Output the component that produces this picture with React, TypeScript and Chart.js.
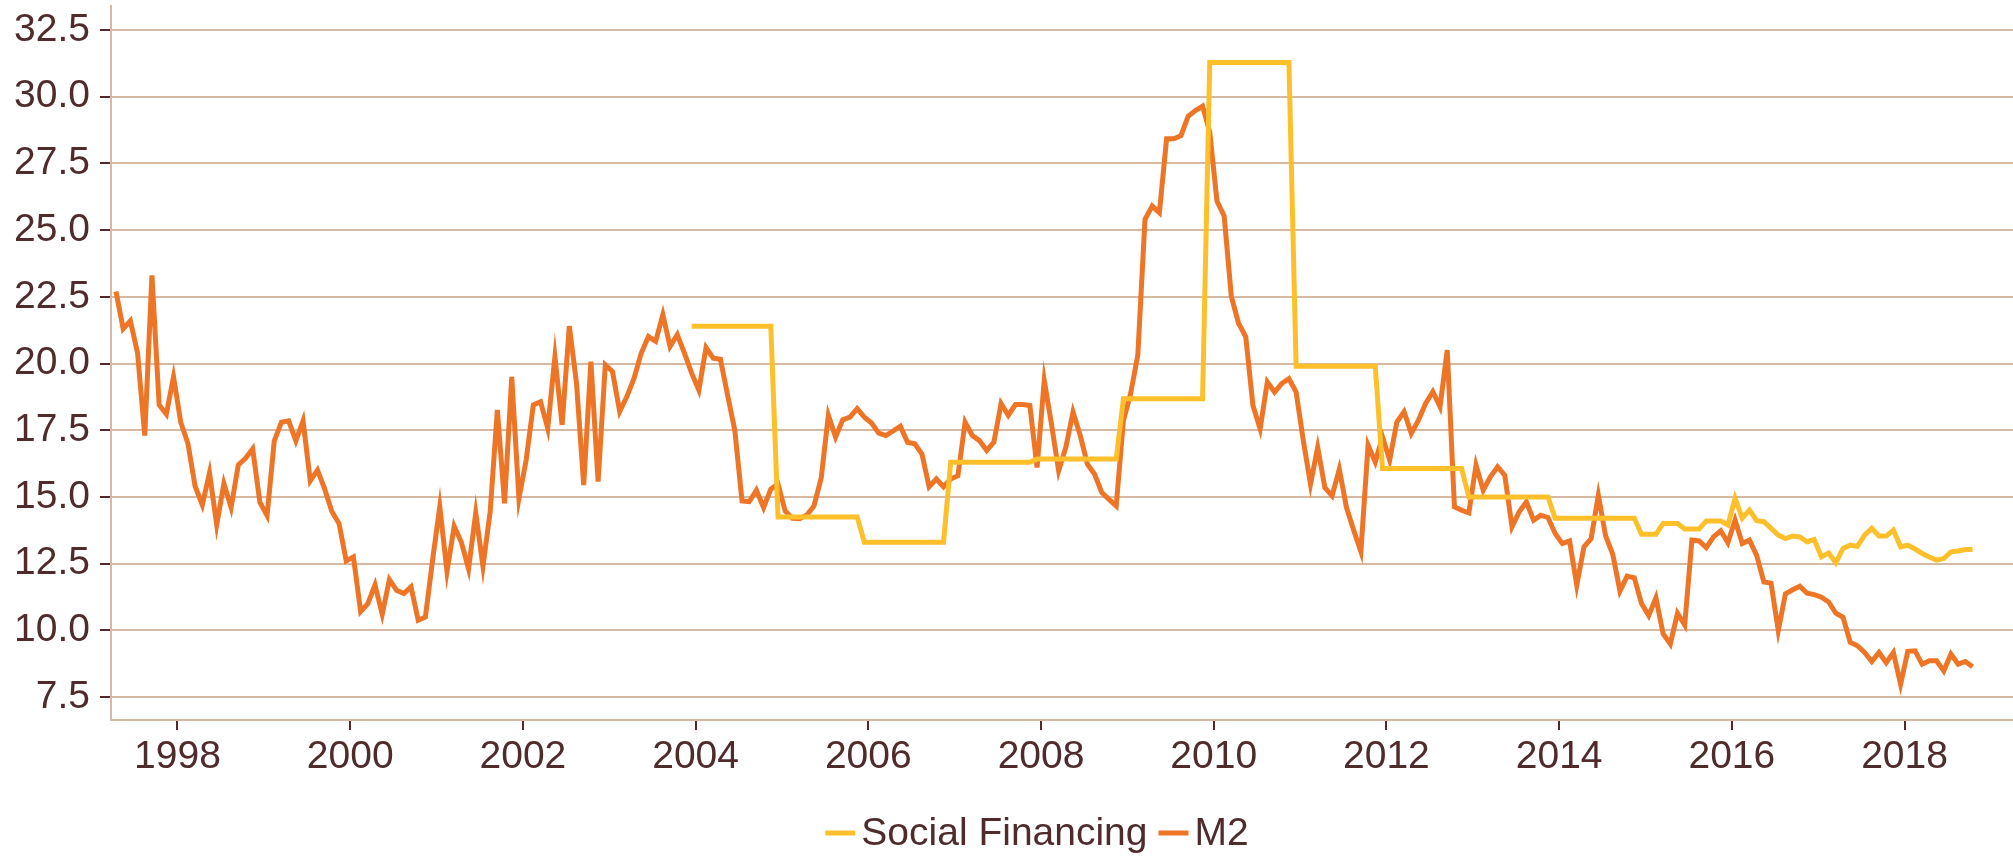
import React, { useEffect, useRef } from "react";
import { Chart, registerables } from "chart.js";

Chart.register(...registerables);

// ---------- data ----------
// Monthly series, first month = April 1997
const START_YEAR = 1997;
const START_MONTH = 4;

// M2 growth (% y/y), Apr 1997 .. Oct 2018
const m2Values: number[] = [
  22.7, 21.3, 21.6, 20.4, 17.3, 23.3, 18.45, 18.1, 19.5,
  17.8, 17.0, 15.4, 14.7, 15.9, 13.95, 15.5, 14.6, 16.2, 16.45, 16.8, 14.8,
  14.3, 17.1, 17.8, 17.85, 17.1, 17.85, 15.6, 16.0, 15.3, 14.45, 14.0, 12.6,
  12.75, 10.7, 11.0, 11.7, 10.6, 11.9, 11.5, 11.38, 11.63, 10.38, 10.5, 12.63,
  14.63, 12.2, 13.9, 13.3, 12.3, 14.4, 12.4, 14.44, 18.26, 14.76, 19.5, 14.94,
  16.38, 18.45, 18.57, 17.57, 20.26, 17.7, 21.4, 19.26, 15.44, 20.07, 15.57, 19.95,
  19.7, 18.2, 18.76, 19.45, 20.39, 21.01, 20.83, 21.83, 20.64, 21.08, 20.39, 19.64,
  19.0, 20.6, 20.2, 20.16, 18.81, 17.49, 14.85, 14.82, 15.25, 14.6, 15.29, 15.48,
  14.47, 14.2, 14.18, 14.32, 14.66, 15.7, 18.06, 17.24, 17.89, 17.99, 18.31, 17.99,
  17.77, 17.39, 17.3, 17.47, 17.65, 17.05, 16.99, 16.61, 15.38, 15.67, 15.38, 15.67,
  15.79, 17.8, 17.3, 17.11, 16.74, 17.05, 18.5, 18.06, 18.46, 18.46, 18.43, 16.1,
  19.37, 17.74, 15.98, 16.86, 18.18, 17.3, 16.23, 15.85, 15.16, 14.91, 14.66, 17.86,
  18.87, 20.31, 25.4, 25.9, 25.65, 28.42, 28.42, 28.54, 29.27, 29.48, 29.65, 28.67,
  26.09, 25.53, 22.51, 21.51, 21.0, 18.43, 17.55, 19.31, 18.93, 19.25, 19.43, 18.93,
  17.11, 15.48, 16.86, 15.35, 15.04, 16.04, 14.6, 13.75, 12.95, 16.94, 16.31, 17.25,
  16.38, 17.81, 18.19, 17.38, 17.88, 18.5, 18.94, 18.38, 20.5, 14.63, 14.5, 14.4,
  16.19, 15.25, 15.75, 16.13, 15.81, 13.88, 14.44, 14.81, 14.13, 14.31, 14.23, 13.63,
  13.25, 13.35, 11.69, 13.13, 13.44, 15.06, 13.55, 12.85, 11.47, 12.03, 11.97, 11.0,
  10.55, 11.22, 9.87, 9.49, 10.64, 10.2, 13.38, 13.35, 13.1, 13.5, 13.73, 13.28,
  14.13, 13.25, 13.38, 12.81, 11.81, 11.77, 9.99, 11.37, 11.52, 11.65, 11.39, 11.34,
  11.24, 11.06, 10.64, 10.49, 9.55, 9.42, 9.17, 8.83, 9.17, 8.79, 9.17, 7.98,
  9.21, 9.23, 8.73, 8.86, 8.86, 8.48, 9.11, 8.73, 8.83, 8.63,
];

// Social financing growth (% y/y), monthly from Dec 2003 (index 80) .. Oct 2018
const SF_START_INDEX = 80;
const sfValues: number[] = [
  21.4, 21.4, 21.4, 21.4, 21.4, 21.4, 21.4, 21.4, 21.4, 21.4, 21.4, 21.4,
  14.25, 14.25, 14.25, 14.25, 14.25, 14.25, 14.25, 14.25, 14.25, 14.25, 14.25, 14.25,
  13.3, 13.3, 13.3, 13.3, 13.3, 13.3, 13.3, 13.3, 13.3, 13.3, 13.3, 13.3,
  16.3, 16.3, 16.3, 16.3, 16.3, 16.3, 16.3, 16.3, 16.3, 16.3, 16.3, 16.3,
  16.42, 16.42, 16.42, 16.42, 16.42, 16.42, 16.42, 16.42, 16.42, 16.42, 16.42, 16.42,
  18.68, 18.68, 18.68, 18.68, 18.68, 18.68, 18.68, 18.68, 18.68, 18.68, 18.68, 18.68,
  31.28, 31.28, 31.28, 31.28, 31.28, 31.28, 31.28, 31.28, 31.28, 31.28, 31.28, 31.28,
  19.9, 19.9, 19.9, 19.9, 19.9, 19.9, 19.9, 19.9, 19.9, 19.9, 19.9, 19.9,
  16.06, 16.06, 16.06, 16.06, 16.06, 16.06, 16.06, 16.06, 16.06, 16.06, 16.06, 16.06,
  15.0, 15.0, 15.0, 15.0, 15.0, 15.0, 15.0, 15.0, 15.0, 15.0, 15.0, 15.0,
  14.2, 14.2, 14.2, 14.2, 14.2, 14.2, 14.2, 14.2, 14.2, 14.2, 14.2, 14.2,
  13.6, 13.6, 13.6, 14.0, 14.0, 14.0, 13.8, 13.8, 13.8, 14.1, 14.1, 14.1,
  13.95, 14.95, 14.2, 14.51, 14.11, 14.07, 13.82, 13.57, 13.44, 13.53, 13.5, 13.32,
  13.4, 12.75, 12.9, 12.53, 13.07, 13.19, 13.15, 13.57, 13.82, 13.53, 13.53, 13.76,
  13.13, 13.19, 13.05, 12.88, 12.75, 12.63, 12.69, 12.94, 12.97, 13.03, 13.03,
];

const seriesLabels = ["Social Financing", "M2"];
const xTickYears = [1998, 2000, 2002, 2004, 2006, 2008, 2010, 2012, 2014, 2016, 2018];
const yTickValues = [7.5, 10, 12.5, 15, 17.5, 20, 22.5, 25, 27.5, 30, 32.5];

// ---------- style ----------
const TEXT = "#4F2B2B";
const GRID = "#D6B9A4";
const SF_COLOR = "#FDC02B";
const M2_COLOR = "#EE7426";
const FONT = "'Liberation Sans', Arial, Helvetica, sans-serif";
const FONT_SIZE = 39;
const LINE_WIDTH = 5;

const monthToX = (index: number) => START_YEAR + (START_MONTH - 1 + index + 0.45) / 12;

const legendPlugin = {
  id: "bottomLegend",
  afterDraw(chart: any) {
    const ctx = chart.ctx as CanvasRenderingContext2D;
    ctx.save();
    ctx.font = `${FONT_SIZE}px ${FONT}`;
    const boxW = 30;
    const boxH = 5;
    const gapText = 6;
    const gapItem = 11;
    const items = chart.data.datasets.map((ds: any) => ({
      label: ds.label as string,
      color: ds.borderColor as string,
      w: ctx.measureText(ds.label).width,
    }));
    const total =
      items.reduce((s: number, it: any) => s + boxW + gapText + it.w, 0) + gapItem * (items.length - 1);
    let x = 1037 - total / 2;
    const boxMid = 833;
    const baseline = 845;
    ctx.textBaseline = "alphabetic";
    ctx.textAlign = "left";
    for (const it of items) {
      ctx.fillStyle = it.color;
      ctx.fillRect(x, boxMid - boxH / 2, boxW, boxH);
      x += boxW + gapText;
      ctx.fillStyle = TEXT;
      ctx.fillText(it.label, x, baseline);
      x += it.w + gapItem;
    }
    ctx.restore();
  },
};

export default function App() {
  const canvasRef = useRef<HTMLCanvasElement | null>(null);

  useEffect(() => {
    if (!canvasRef.current) return;
    const chart = new Chart(canvasRef.current, {
      type: "line",
      data: {
        datasets: [
          {
            label: seriesLabels[0],
            data: sfValues.map((v, i) => ({ x: monthToX(SF_START_INDEX + i), y: v })),
            borderColor: SF_COLOR,
            backgroundColor: SF_COLOR,
            borderWidth: LINE_WIDTH,
            pointRadius: 0,
            fill: false,
            tension: 0,
          },
          {
            label: seriesLabels[1],
            data: m2Values.map((v, i) => ({ x: monthToX(i), y: v })),
            borderColor: M2_COLOR,
            backgroundColor: M2_COLOR,
            borderWidth: LINE_WIDTH,
            pointRadius: 0,
            fill: false,
            tension: 0,
          },
        ],
      },
      options: {
        animation: false,
        responsive: true,
        maintainAspectRatio: false,
        layout: { padding: { top: 6, left: 0, right: 0, bottom: 0 } },
        plugins: {
          legend: { display: false },
          tooltip: { enabled: false },
        },
        scales: {
          x: {
            type: "linear",
            min: 1997.23,
            max: 2019.256,
            afterBuildTicks: (s: any) => {
              s.ticks = xTickYears.map((v) => ({ value: v }));
            },
            afterFit: (s: any) => {
              s.height = 138;
              s.paddingLeft = 0;
              s.paddingRight = 0;
            },
            grid: {
              drawOnChartArea: false,
              drawTicks: true,
              tickLength: 10,
              tickColor: TEXT,
              tickWidth: 2,
              lineWidth: 2,
              color: TEXT,
            },
            border: { display: true, color: GRID, width: 2 },
            ticks: {
              color: TEXT,
              font: { family: FONT, size: FONT_SIZE },
              padding: 4,
              autoSkip: false,
              maxRotation: 0,
              callback: (v: any) => String(v),
            },
          },
          y: {
            type: "linear",
            min: 6.638,
            max: 33.4,
            afterBuildTicks: (s: any) => {
              s.ticks = yTickValues.map((v) => ({ value: v }));
            },
            afterFit: (s: any) => {
              s.width = 111;
              s.paddingTop = 0;
              s.paddingBottom = 0;
            },
            grid: {
              color: GRID,
              lineWidth: 2,
              drawTicks: true,
              tickLength: 11,
              tickColor: TEXT,
              tickWidth: 2,
            },
            border: { display: true, color: GRID, width: 2 },
            ticks: {
              color: TEXT,
              font: { family: FONT, size: FONT_SIZE },
              padding: 10,
              callback: (v: any) => Number(v).toFixed(1),
            },
          },
        },
      },
      plugins: [legendPlugin],
    });
    return () => chart.destroy();
  }, []);

  return (
    <div style={{ position: "fixed", left: 0, top: 0, width: "2013px", height: "858px", background: "#fff" }}>
      <canvas ref={canvasRef} />
    </div>
  );
}
